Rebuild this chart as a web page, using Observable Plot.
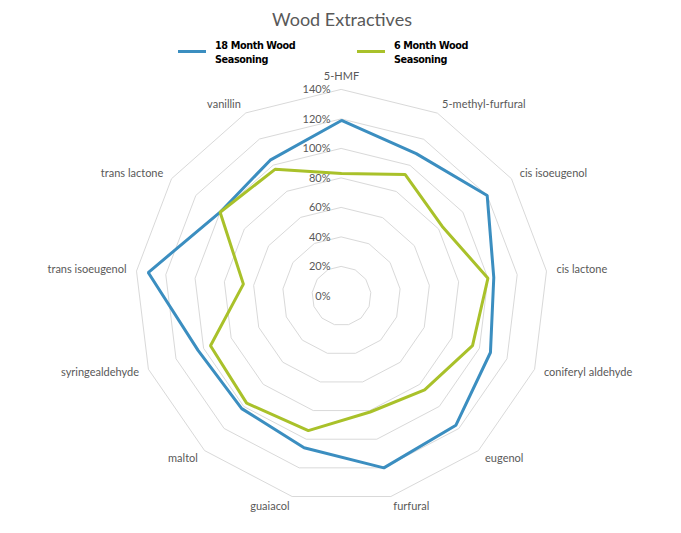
<!DOCTYPE html>
<html>
<head>
<meta charset="utf-8">
<script src="https://cdn.jsdelivr.net/npm/d3@7"></script>
<script src="https://cdn.jsdelivr.net/npm/@observablehq/plot@0.6"></script>
<style>
  html, body { margin: 0; padding: 0; background: #fff; }
  #wrap { position: relative; width: 681px; height: 533px; overflow: hidden; font-family: Lato, "Open Sans", sans-serif; }
  #chart { position: absolute; left: 0; top: 0; }
  #title { position: absolute; left: 0; width: 684px; top: 8px; text-align: center; font-size: 18px; color: #595959; }
  .lg { position: absolute; top: 39px; display: flex; align-items: flex-start; }
  .sw { width: 28px; height: 3px; margin-top: 11px; margin-right: 9px; }
  .lt { font-family: "DejaVu Sans", sans-serif; font-weight: bold; font-size: 9.7px; letter-spacing: -0.4px; line-height: 13.5px; color: #000; }
</style>
</head>
<body>
<div id="wrap">
  <div id="chart"></div>
  <div id="title">Wood Extractives</div>
  <div id="legend"></div>
</div>
<script>
const categories = ["5-HMF", "5-methyl-furfural", "cis isoeugenol", "cis lactone", "coniferyl aldehyde", "eugenol", "furfural", "guaiacol", "maltol", "syringealdehyde", "trans isoeugenol", "trans lactone", "vanillin"];
const month18 = [119, 109, 120, 104, 108, 117, 120, 106, 102, 104, 132, 100, 104];
const month6  = [83, 93, 83, 100, 95, 85, 81, 94, 97, 95, 67, 100, 97];
const ticks = [0, 20, 40, 60, 80, 100, 120, 140];
const seriesNames = ["18 Month Wood\nSeasoning", "6 Month Wood\nSeasoning"];
const colors = ["#3b8ec0", "#a9c12a"];

const n = categories.length;
const ang = i => (2 * Math.PI * i) / n;
const maxV = 140;
const pxPerUnit = 1.475;
const cx = 341, cy = 295.5, W = 681, H = 533;

const ringData = [];
ticks.filter(t => t > 0).forEach(t => {
  categories.forEach((c, i) => ringData.push({t, x: t * Math.sin(ang(i)), y: t * Math.cos(ang(i))}));
});

const seriesData = [];
[month18, month6].forEach((vals, s) => {
  vals.forEach((v, i) => seriesData.push({series: seriesNames[s], x: v * Math.sin(ang(i)), y: v * Math.cos(ang(i))}));
});

const labelR = maxV + 10 / pxPerUnit;
const labelData = categories.map((c, i) => {
  const s = Math.sin(ang(i)), co = Math.cos(ang(i));
  return {c, x: labelR * s, y: labelR * co, anchor: s > 0.1 ? "start" : s < -0.1 ? "end" : "middle"};
});

const common = {fill: "#595959", fontSize: 11, fontFamily: "Lato, sans-serif"};

const plot = Plot.plot({
  width: W,
  height: H,
  margin: 0,
  x: {domain: [-cx / pxPerUnit, (W - cx) / pxPerUnit], axis: null},
  y: {domain: [-(H - cy) / pxPerUnit, cy / pxPerUnit], axis: null},
  color: {domain: seriesNames, range: colors},
  marks: [
    Plot.line(ringData, {x: "x", y: "y", z: "t", curve: "linear-closed", stroke: "#d9d9d9", strokeWidth: 1}),
    Plot.line(seriesData, {x: "x", y: "y", z: "series", stroke: "series", curve: "linear-closed", strokeWidth: 3, strokeLinejoin: "miter"}),
    Plot.text(ticks, {x: () => 0, y: d => d, text: d => d + "%", textAnchor: "end", dx: -11, ...common}),
    Plot.text(labelData.filter(d => d.anchor === "start"), {x: "x", y: "y", text: "c", textAnchor: "start", ...common}),
    Plot.text(labelData.filter(d => d.anchor === "end"), {x: "x", y: "y", text: "c", textAnchor: "end", ...common}),
    Plot.text(labelData.filter(d => d.anchor === "middle"), {x: "x", y: "y", text: "c", textAnchor: "middle", lineAnchor: "bottom", ...common})
  ]
});
document.getElementById("chart").appendChild(plot);

const legendLeft = [178, 357];
const lg = document.getElementById("legend");
seriesNames.forEach((name, s) => {
  const item = document.createElement("div");
  item.className = "lg";
  item.style.left = legendLeft[s] + "px";
  const sw = document.createElement("div");
  sw.className = "sw";
  sw.style.background = colors[s];
  const lt = document.createElement("div");
  lt.className = "lt";
  lt.innerHTML = name.split("\n").join("<br>");
  item.appendChild(sw);
  item.appendChild(lt);
  lg.appendChild(item);
});
</script>
</body>
</html>
